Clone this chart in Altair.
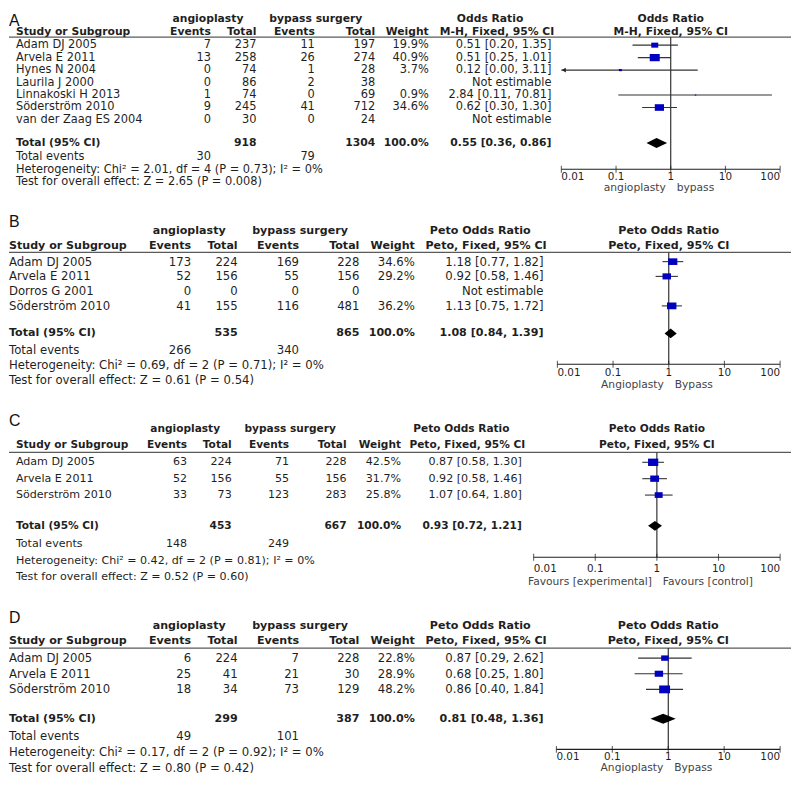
import altair as alt
import pandas as pd

FONT = "DejaVu Sans"
LETTER_FONT = "Liberation Sans"
INK = "#1f1f1f"
BLUE = "#0000c0"
W = 790

# ---------------- shared labels ----------------
TICKS = [0.01, 0.1, 1, 10, 100]
TICK_LABELS = ["0.01", "0.1", "1", "10", "100"]
GROUPS = ["angioplasty", "bypass surgery"]
COL_HEAD = ["Study or Subgroup", "Events", "Total", "Events", "Total", "Weight"]

# ---------------- panel A ----------------
A_study = ["Adam DJ 2005", "Arvela E 2011", "Hynes N 2004", "Laurila J 2000",
           "Linnakoski H 2013", "Söderström 2010", "van der Zaag ES 2004"]
A_ev1 = [7, 13, 0, 0, 1, 9, 0]
A_tot1 = [237, 258, 74, 86, 74, 245, 30]
A_ev2 = [11, 26, 1, 2, 0, 41, 0]
A_tot2 = [197, 274, 28, 38, 69, 712, 24]
A_weight = [19.9, 40.9, 3.7, None, 0.9, 34.6, None]
A_or = [0.51, 0.51, 0.12, None, 2.84, 0.62, None]
A_lo = [0.20, 0.25, 0.00, None, 0.11, 0.30, None]
A_hi = [1.35, 1.01, 3.11, None, 70.81, 1.30, None]
A_totals = [918, 1304]
A_events = [30, 79]
A_pooled = [0.55, 0.36, 0.86]
A_het = "Heterogeneity: Chi² = 2.01, df = 4 (P = 0.73); I² = 0%"
A_test = "Test for overall effect: Z = 2.65 (P = 0.008)"
A_head = ["Odds Ratio", "M-H, Fixed, 95% CI"]
A_favours = ["angioplasty", "bypass"]

# ---------------- panel B ----------------
B_study = ["Adam DJ 2005", "Arvela E 2011", "Dorros G 2001", "Söderström 2010"]
B_ev1 = [173, 52, 0, 41]
B_tot1 = [224, 156, 0, 155]
B_ev2 = [169, 55, 0, 116]
B_tot2 = [228, 156, 0, 481]
B_weight = [34.6, 29.2, None, 36.2]
B_or = [1.18, 0.92, None, 1.13]
B_lo = [0.77, 0.58, None, 0.75]
B_hi = [1.82, 1.46, None, 1.72]
B_totals = [535, 865]
B_events = [266, 340]
B_pooled = [1.08, 0.84, 1.39]
B_het = "Heterogeneity: Chi² = 0.69, df = 2 (P = 0.71); I² = 0%"
B_test = "Test for overall effect: Z = 0.61 (P = 0.54)"
B_head = ["Peto Odds Ratio", "Peto, Fixed, 95% CI"]
B_favours = ["Angioplasty", "Bypass"]

# ---------------- panel C ----------------
C_study = ["Adam DJ 2005", "Arvela E 2011", "Söderström 2010"]
C_ev1 = [63, 52, 33]
C_tot1 = [224, 156, 73]
C_ev2 = [71, 55, 123]
C_tot2 = [228, 156, 283]
C_weight = [42.5, 31.7, 25.8]
C_or = [0.87, 0.92, 1.07]
C_lo = [0.58, 0.58, 0.64]
C_hi = [1.30, 1.46, 1.80]
C_totals = [453, 667]
C_events = [148, 249]
C_pooled = [0.93, 0.72, 1.21]
C_het = "Heterogeneity: Chi² = 0.42, df = 2 (P = 0.81); I² = 0%"
C_test = "Test for overall effect: Z = 0.52 (P = 0.60)"
C_head = ["Peto Odds Ratio", "Peto, Fixed, 95% CI"]
C_favours = ["Favours [experimental]", "Favours [control]"]

# ---------------- panel D ----------------
D_study = ["Adam DJ 2005", "Arvela E 2011", "Söderström 2010"]
D_ev1 = [6, 25, 18]
D_tot1 = [224, 41, 34]
D_ev2 = [7, 21, 73]
D_tot2 = [228, 30, 129]
D_weight = [22.8, 28.9, 48.2]
D_or = [0.87, 0.68, 0.86]
D_lo = [0.29, 0.25, 0.40]
D_hi = [2.62, 1.80, 1.84]
D_totals = [299, 387]
D_events = [49, 101]
D_pooled = [0.81, 0.48, 1.36]
D_het = "Heterogeneity: Chi² = 0.17, df = 2 (P = 0.92); I² = 0%"
D_test = "Test for overall effect: Z = 0.80 (P = 0.42)"
D_head = ["Peto Odds Ratio", "Peto, Fixed, 95% CI"]
D_favours = ["Angioplasty", "Bypass"]

# ---------------- layout (page pixels) ----------------
COLS_BD = dict(name=8, ev1=192, tot1=239, ev2=301, tot2=362, wt=418, eff=548,
               grp1=190, grp2=302, eh1=484, eh2=490)
LAYOUT = {
    "A": dict(top=8, height=182, y1=40.6, step=12.6, axis=166, line=32.5, letter=16,
              cols=dict(name=15, ev1=212, tot1=258, ev2=317, tot2=378, wt=432, eff=556,
                        grp1=209, grp2=318, eh1=494, eh2=501),
              forest=(566, 787), body=11.5, bold=10.9, tick_dy=8, fav_dy=19),
    "B": dict(top=190, height=200, y1=259.3, step=14.9, axis=363, line=250, letter=219,
              cols=COLS_BD, forest=(562, 787), body=11.8, bold=11.2, tick_dy=9, fav_dy=21),
    "C": dict(top=390, height=197, y1=462.0, step=16.55, axis=558, line=452, letter=420,
              cols=dict(name=15, ev1=188, tot1=233, ev2=291, tot2=349, wt=404, eff=526,
                        grp1=186, grp2=292, eh1=465, eh2=471),
              forest=(538, 787), body=11.2, bold=10.7, tick_dy=12, fav_dy=25),
    "D": dict(top=587, height=191, y1=659.8, step=15.8, axis=752, line=649.7, letter=619,
              cols=COLS_BD, forest=(561, 787), body=11.8, bold=11.2, tick_dy=8, fav_dy=19),
}
ALIGN = dict(name="left", ev1="right", tot1="right", ev2="right", tot2="right", wt="right",
             eff="right", grp1="center", grp2="center", eh1="center", eh2="center")

SIZE_SCALE = alt.Scale(domain=[0, 100], range=[0, 250])
SQUARE = "M-1,-0.72L1,-0.72L1,0.72L-1,0.72Z"


def fmt_ci(e, l, h):
    return f"{e:.2f} [{l:.2f}, {h:.2f}]"


def panel(letter, study, ev1, tot1, ev2, tot2, weight, orr, lo, hi,
          totals, events, pooled, het, test, head, favours, L):
    n = len(study)
    s = L["step"]

    def r(px):
        return 1 + (px - L["y1"]) / s

    ys = alt.Scale(domain=[r(L["top"]), r(L["top"] + L["height"])],
                   range=[0, L["height"]], nice=False, zero=False)
    xs = alt.Scale(type="log", domain=[0.01, 100],
                   range=[L["forest"][0] - 8, L["forest"][1] - 8], nice=False)

    def Y(f):
        return alt.Y(f, scale=ys, axis=None)

    def X(f):
        return alt.X(f, scale=xs, axis=None)

    grp_row = -1 - 1 / s
    head_row = -1 / s
    tot_row = n + 2 - 2 / s
    ev_row = n + 3
    het_row = n + 4
    test_row = n + 5
    axis_row = r(L["axis"])
    line_row = r(L["line"])
    letter_row = r(L["letter"])

    recs = []

    def add(row, label, col, bold=False):
        recs.append(dict(row=row, label=str(label), col=col, bold=bold))

    add(grp_row, GROUPS[0], "grp1", True)
    add(grp_row, GROUPS[1], "grp2", True)
    add(grp_row, head[0], "eh1", True)
    for c, t in zip(["name", "ev1", "tot1", "ev2", "tot2", "wt"], COL_HEAD):
        add(head_row, t, c, True)
    add(head_row, head[1], "eh2", True)
    for i in range(n):
        row = i + 1
        add(row, study[i], "name")
        add(row, ev1[i], "ev1")
        add(row, tot1[i], "tot1")
        add(row, ev2[i], "ev2")
        add(row, tot2[i], "tot2")
        if weight[i] is not None:
            add(row, f"{weight[i]:.1f}%", "wt")
            add(row, fmt_ci(orr[i], lo[i], hi[i]), "eff")
        else:
            add(row, "Not estimable", "eff")
    add(tot_row, "Total (95% CI)", "name", True)
    add(tot_row, totals[0], "tot1", True)
    add(tot_row, totals[1], "tot2", True)
    add(tot_row, f"{100:.1f}%", "wt", True)
    add(tot_row, fmt_ci(*pooled), "eff", True)
    add(ev_row, "Total events", "name")
    add(ev_row, events[0], "ev1")
    add(ev_row, events[1], "ev2")
    add(het_row, het, "name")
    add(test_row, test, "name")
    tdf = pd.DataFrame(recs)

    layers = []

    # header rule
    layers.append(alt.Chart(pd.DataFrame({"row": [line_row]})).mark_rule(
        color="#5a5a5a", strokeWidth=1.3).encode(
        x=alt.value(0), x2=alt.value(W), y=Y("row:Q")))
    # line of no effect
    layers.append(alt.Chart(pd.DataFrame({"x": [1], "y0": [line_row], "y1": [axis_row]})).mark_rule(
        color=INK, strokeWidth=1.1).encode(x=X("x:Q"), y=Y("y0:Q"), y2="y1:Q"))
    # axis line and ticks
    layers.append(alt.Chart(pd.DataFrame({"x0": [TICKS[0]], "x1": [TICKS[-1]], "row": [axis_row]})).mark_rule(
        color=INK, strokeWidth=1.1).encode(x=X("x0:Q"), x2="x1:Q", y=Y("row:Q")))
    tick_df = pd.DataFrame({"x": TICKS, "row": [axis_row] * len(TICKS), "label": TICK_LABELS})
    layers.append(alt.Chart(tick_df).mark_tick(orient="vertical", size=7, thickness=1.1, color=INK).encode(
        x=X("x:Q"), y=Y("row:Q")))

    # confidence intervals
    sdf = pd.DataFrame({"row": list(range(1, n + 1)), "or": orr, "lo": lo, "hi": hi, "weight": weight})
    sdf = sdf.dropna(subset=["or"]).copy()
    sdf["lo_plot"] = sdf["lo"].clip(lower=TICKS[0])
    layers.append(alt.Chart(sdf).mark_rule(color="#333333", strokeWidth=1.1).encode(
        x=X("lo_plot:Q"), x2="hi:Q", y=Y("row:Q")))
    arrows = sdf[sdf["lo"] < TICKS[0]]
    if len(arrows):
        layers.append(alt.Chart(arrows).mark_point(
            shape="triangle-left", filled=True, color="#222222", size=22, opacity=1, xOffset=2.5).encode(
            x=X("lo_plot:Q"), y=Y("row:Q")))
    # squares
    layers.append(alt.Chart(sdf).mark_point(
        shape=SQUARE, filled=True, color=BLUE, opacity=1, strokeWidth=0).encode(
        x=X("or:Q"), y=Y("row:Q"), size=alt.Size("weight:Q", scale=SIZE_SCALE, legend=None)))
    # pooled diamond
    h = 5 / s
    ddf = pd.DataFrame({"x": [pooled[1], pooled[0], pooled[2]],
                        "ylo": [tot_row, tot_row - h, tot_row],
                        "yhi": [tot_row, tot_row + h, tot_row]})
    layers.append(alt.Chart(ddf).mark_area(color="black", orient="vertical", opacity=1).encode(
        x=X("x:Q"), y=alt.Y("ylo:Q", scale=ys, axis=None, stack=None), y2="yhi:Q"))

    # table text
    for (col, bold), sub in tdf.groupby(["col", "bold"]):
        layers.append(alt.Chart(sub).mark_text(
            align=ALIGN[col], baseline="middle", font=FONT,
            fontSize=L["bold"] if bold else L["body"],
            fontWeight="bold" if bold else "normal", color=INK).encode(
            x=alt.value(L["cols"][col] - 8), y=Y("row:Q"), text="label:N"))

    # forest header (centred on the line of no effect)
    fh = pd.DataFrame({"x": [1, 1], "row": [grp_row, head_row], "label": head})
    layers.append(alt.Chart(fh).mark_text(
        align="center", baseline="middle", font=FONT, fontSize=L["bold"], fontWeight="bold", color=INK).encode(
        x=X("x:Q"), y=Y("row:Q"), text="label:N"))
    # tick labels
    for sub, al in [(tick_df.iloc[:1], "left"), (tick_df.iloc[1:-1], "center"), (tick_df.iloc[-1:], "right")]:
        layers.append(alt.Chart(sub).mark_text(
            align=al, baseline="middle", font=FONT, fontSize=10.5, color=INK, dy=L["tick_dy"]).encode(
            x=X("x:Q"), y=Y("row:Q"), text="label:N"))
    # favours labels
    for lab, al, dx in [(favours[0], "right", -5), (favours[1], "left", 6)]:
        layers.append(alt.Chart(pd.DataFrame({"x": [1], "row": [axis_row], "label": [lab]})).mark_text(
            align=al, baseline="middle", font=FONT, fontSize=10.8, color="#444444",
            dx=dx, dy=L["fav_dy"]).encode(x=X("x:Q"), y=Y("row:Q"), text="label:N"))
    # panel letter
    layers.append(alt.Chart(pd.DataFrame({"row": [letter_row], "label": [letter]})).mark_text(
        align="left", baseline="middle", font=LETTER_FONT, fontSize=16, color="#111111").encode(
        x=alt.value(0), y=Y("row:Q"), text="label:N"))

    return alt.layer(*layers).properties(width=W, height=L["height"])


panels = [
    panel("A", A_study, A_ev1, A_tot1, A_ev2, A_tot2, A_weight, A_or, A_lo, A_hi,
          A_totals, A_events, A_pooled, A_het, A_test, A_head, A_favours, LAYOUT["A"]),
    panel("B", B_study, B_ev1, B_tot1, B_ev2, B_tot2, B_weight, B_or, B_lo, B_hi,
          B_totals, B_events, B_pooled, B_het, B_test, B_head, B_favours, LAYOUT["B"]),
    panel("C", C_study, C_ev1, C_tot1, C_ev2, C_tot2, C_weight, C_or, C_lo, C_hi,
          C_totals, C_events, C_pooled, C_het, C_test, C_head, C_favours, LAYOUT["C"]),
    panel("D", D_study, D_ev1, D_tot1, D_ev2, D_tot2, D_weight, D_or, D_lo, D_hi,
          D_totals, D_events, D_pooled, D_het, D_test, D_head, D_favours, LAYOUT["D"]),
]

chart = alt.vconcat(*panels, spacing=0, bounds="flush").properties(
    padding=0, background="white").configure_view(strokeWidth=0)

chart.save("out.html", embed_options={"renderer": "svg", "actions": False})
